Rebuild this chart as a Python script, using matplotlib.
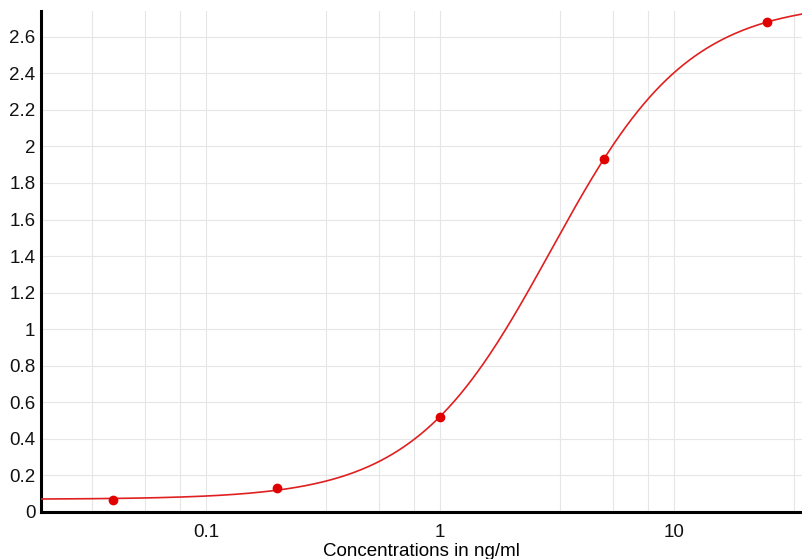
import numpy as np
import matplotlib
matplotlib.use("Agg")
from matplotlib import pyplot as plt
from matplotlib.ticker import FixedLocator, FuncFormatter

# Standardpunkte
conc = np.array([0.04, 0.2, 1.0, 5.0, 25.0])
od = np.array([0.065, 0.13, 0.52, 1.93, 2.68])

x_min, x_max = 0.0197, 35.2
y_min, y_max = 0.0, 2.74


def fourpl(x, p):
    bottom, top, logc, hill = p
    return bottom + (top - bottom) / (1 + 10 ** ((logc - np.log10(x)) * hill))


def fit_4pl(x, y):
    # einfaches Levenberg-Marquardt
    p = np.array([0.065, 2.75, np.log10(2.9), 1.5])
    lam = 1e-3
    for _ in range(200):
        r = y - fourpl(x, p)
        J = np.empty((len(x), 4))
        for k in range(4):
            dp = np.zeros(4)
            dp[k] = 1e-6
            J[:, k] = (fourpl(x, p + dp) - fourpl(x, p)) / 1e-6
        A = J.T @ J
        step = np.linalg.solve(A + lam * np.diag(np.diag(A)), J.T @ r)
        p_new = p + step
        if np.sum((y - fourpl(x, p_new)) ** 2) < np.sum(r ** 2):
            p = p_new
            lam *= 0.5
        else:
            lam *= 4
    return p


params = fit_4pl(conc, od)
x_curve = np.logspace(np.log10(x_min), np.log10(x_max), 400)
y_curve = fourpl(x_curve, params)

plt.rcParams['font.family'] = ['Liberation Sans', 'DejaVu Sans']

fig = plt.figure(figsize=(8.02, 5.59), dpi=100)
ax = fig.add_axes([0.0511, 0.0841, 0.9489, 0.896])

ax.set_xscale('log')
ax.set_xlim(x_min, x_max)
ax.set_ylim(y_min, y_max)

# Gitter: je Dekade 4 lineare Teilungen
grid_x = []
for d in [0.01, 0.1, 1, 10]:
    for k in range(5):
        grid_x.append(d + 9 * d * k / 4)
ax.xaxis.set_major_locator(FixedLocator([0.1, 1, 10]))
ax.xaxis.set_minor_locator(FixedLocator(grid_x))
ax.xaxis.set_major_formatter(FuncFormatter(lambda v, pos: '%g' % v))
ax.xaxis.set_minor_formatter(FuncFormatter(lambda v, pos: ''))
ax.yaxis.set_major_locator(FixedLocator(np.arange(0, 2.61, 0.2)))
ax.yaxis.set_major_formatter(FuncFormatter(lambda v, pos: '%g' % round(v, 1)))

ax.grid(True, which='both', axis='x', color='#e6e6e6', lw=0.8)
ax.grid(True, which='major', axis='y', color='#e6e6e6', lw=0.8)
ax.set_axisbelow(True)

ax.plot(x_curve, y_curve, color='#e02020', lw=1.2, zorder=3)
ax.plot(conc, od, 'o', color='#e00000', ms=6, zorder=4)

for s in ['top', 'right']:
    ax.spines[s].set_visible(False)
for s in ['left', 'bottom']:
    ax.spines[s].set_linewidth(2.2)
    ax.spines[s].set_color('black')

ax.tick_params(which='both', length=0, labelsize=13.5, colors='#111111', pad=9)
ax.tick_params(axis='y', pad=4)
ax.set_xlabel('Concentrations in ng/ml', fontsize=13.5, labelpad=1)

fig.savefig('out.png', dpi=100)
